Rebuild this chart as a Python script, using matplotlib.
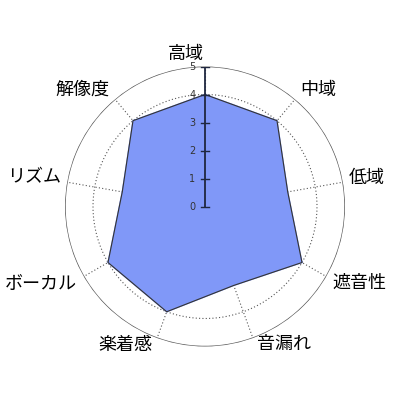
import numpy as np
import matplotlib
matplotlib.use("Agg")
import matplotlib.pyplot as plt

plt.rcParams['font.family'] = ['Noto Sans CJK JP', 'DejaVu Sans']

categories = ["高域", "中域", "低域", "遮音性", "音漏れ", "楽着感", "ボーカル", "リズム", "解像度"]
values = [4, 4, 3, 4, 3, 4, 4, 3, 4]
ticks = [0, 1, 2, 3, 4, 5]
rmax = 5

# label layout: (angle offset in degrees clockwise from top, radius)
label_layout = [(-7.3, 5.5), (44.1, 5.8), (80.0, 5.87), (116.3, 6.17), (150.1, 5.66),
                (210.0, 5.71), (244.7, 6.48), (279.8, 6.2), (313.4, 6.05)]

fig = plt.figure(figsize=(4, 4), dpi=100)
rect = [0.1625, 0.13375, 0.7, 0.7]
ax = fig.add_axes(rect, projection='polar')
ax.set_theta_offset(np.pi / 2)
ax.set_theta_direction(-1)
ax.set_ylim(0, rmax)
ax.set_axis_off()

n = len(categories)
angles = np.arange(n) * 2 * np.pi / n
full = np.linspace(0, 2 * np.pi, 400)

# grid
for r in ticks[1:-1]:
    ax.plot(full, np.full_like(full, r), color='#555555', lw=0.8, ls=(0, (1, 2)), zorder=1)
ax.plot(full, np.full_like(full, rmax), color='#5a5a5a', lw=1.0, zorder=1)
for a in angles:
    ax.plot([a, a], [0, rmax], color='#555555', lw=0.8, ls=(0, (1, 2)), zorder=1)

# data polygon
th = np.concatenate([angles, angles[:1]])
vv = np.concatenate([values, values[:1]])
ax.fill(th, vv, color='#8098F8', zorder=2)
ax.plot(th, vv, color='#333333', lw=0.8, zorder=3)

# labels
for cat, (adeg, rr) in zip(categories, label_layout):
    ax.text(np.deg2rad(adeg), rr, cat, ha='center', va='center', fontsize=13,
            color='black', clip_on=False, zorder=5)

# vertical axis with ticks (cartesian overlay)
ax2 = fig.add_axes(rect)
ax2.set_xlim(-rmax, rmax)
ax2.set_ylim(-rmax, rmax)
ax2.set_axis_off()
ax2.patch.set_alpha(0)
ax2.plot([0, 0], [0, rmax], color='#1f2740', lw=1.3, zorder=4)
for t in ticks:
    ax2.plot([-0.14, 0.14], [t, t], color='#1f2740', lw=1.0, zorder=4)
    ax2.text(-0.45, t, str(t), ha='center', va='center', fontsize=7,
             color='#333333', family='DejaVu Sans', zorder=4)

fig.savefig("out.png", dpi=100)
